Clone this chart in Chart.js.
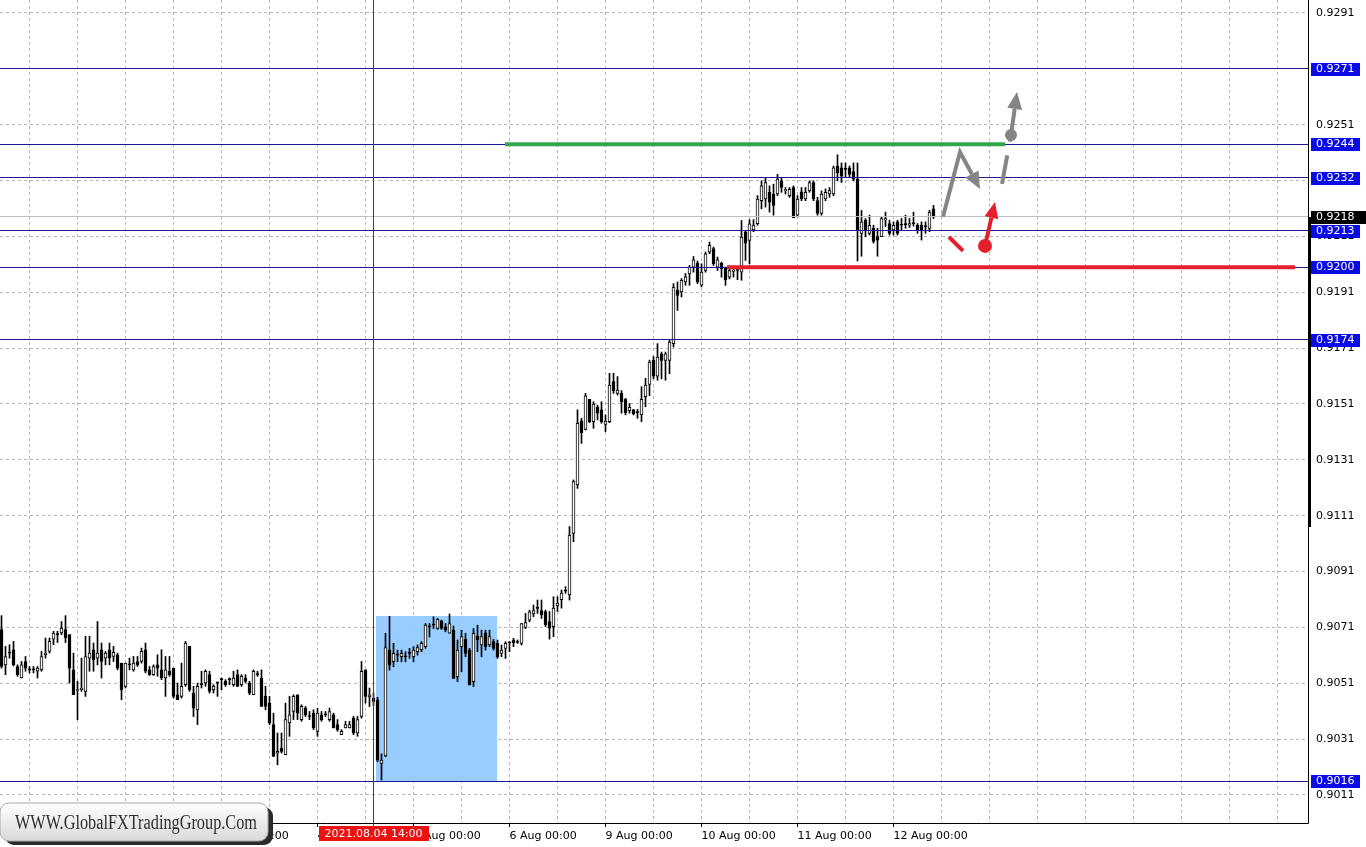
<!DOCTYPE html>
<html>
<head>
<meta charset="utf-8">
<title>USDCHF H1</title>
<script src="https://cdn.jsdelivr.net/npm/chart.js@4.4.1/dist/chart.umd.min.js"></script>
<style>
  html, body { margin: 0; padding: 0; background: #fff; }
  #wrap { width: 1366px; height: 847px; }
</style>
</head>
<body>
<div id="wrap"><canvas id="chart" width="1366" height="847"></canvas></div>
<script>
// H1 candles, bar 0 = 29 Jul 17:00, bar 79 = 4 Aug 00:00
const opens = [
  0.90702,0.90576,0.90618,0.9063,0.9057,0.90529,0.90588,0.90558,0.90558,0.90553,
  0.90558,0.90612,0.90624,0.90668,0.90684,0.9069,0.90702,0.90684,0.90558,0.90484,
  0.90487,0.90481,0.906,0.9063,0.906,0.9063,0.906,0.9063,0.90606,0.90612,
  0.90582,0.90499,0.90576,0.90558,0.90588,0.90588,0.9063,0.90558,0.90541,0.90576,
  0.90558,0.90529,0.90553,0.90564,0.90469,0.90463,0.90505,0.90642,0.90475,0.90415,
  0.90505,0.90511,0.90541,0.90487,0.90511,0.90523,0.90517,0.90523,0.90505,0.90541,
  0.90505,0.90529,0.90511,0.90469,0.90541,0.90529,0.90463,0.90439,0.90362,0.9026,
  0.90278,0.90254,0.90368,0.90409,0.90469,0.9038,0.90421,0.90391,0.90403,0.90338,
  0.90397,0.90397,0.9038,0.90397,0.90362,0.90326,0.9035,0.9035,0.90385,0.90332,
  0.90391,0.90558,0.90461,0.90457,0.9045,0.90223,0.9025,0.90629,0.90587,0.90611,
  0.90605,0.90605,0.90617,0.90605,0.90623,0.90629,0.90641,0.90712,0.90718,0.90706,
  0.90734,0.90712,0.90689,0.907,0.90533,0.90641,0.90667,0.90629,0.90516,0.90679,
  0.90647,0.90691,0.90647,0.90659,0.90653,0.90617,0.90635,0.90655,0.90665,0.90656,
  0.90653,0.9071,0.90736,0.90758,0.90778,0.9077,0.90767,0.90731,0.90713,0.90787,
  0.90809,0.9084,0.90826,0.91047,0.9122,0.9145,0.91419,0.91527,0.91447,0.91498,
  0.91489,0.91437,0.91447,0.9159,0.91548,0.91548,0.91527,0.91486,0.91489,0.91479,
  0.91471,0.91536,0.9158,0.91666,0.9161,0.9169,0.91666,0.91666,0.91726,0.91917,
  0.91911,0.91947,0.91976,0.92,0.92014,0.91935,0.91988,0.92054,0.92066,0.92,
  0.92014,0.92,0.91964,0.91985,0.91988,0.91982,0.92126,0.92096,0.92133,0.92156,
  0.92238,0.92244,0.92268,0.92262,0.92262,0.92309,0.92274,0.92256,0.92285,0.92186,
  0.9227,0.92244,0.92273,0.92303,0.92238,0.92192,0.92244,0.92262,0.92262,0.92362,
  0.92356,0.9235,0.92356,0.92342,0.92315,0.92121,0.92168,0.92121,0.92139,0.92109,
  0.92109,0.92168,0.92156,0.92133,0.92162,0.9215,0.92152,0.9215,0.92156,0.9215,
  0.9215,0.92145,0.92139,0.92209
];
const highs = [
  0.90752,0.90642,0.90648,0.9066,0.90576,0.90588,0.90606,0.9057,0.9057,0.9057,
  0.90624,0.90672,0.90672,0.90696,0.90696,0.90731,0.90752,0.90684,0.90618,0.90517,
  0.906,0.90678,0.90678,0.90654,0.90731,0.90654,0.90624,0.90654,0.90642,0.90618,
  0.90582,0.90582,0.906,0.90606,0.90606,0.90636,0.90654,0.9057,0.90576,0.90612,
  0.9063,0.90606,0.90606,0.90564,0.90511,0.90582,0.9066,0.90642,0.90499,0.90511,
  0.90553,0.90558,0.90553,0.90505,0.90515,0.90529,0.90523,0.90529,0.90553,0.90558,
  0.90541,0.90541,0.90517,0.90558,0.90553,0.90558,0.90499,0.90463,0.90403,0.90332,
  0.90332,0.90439,0.90463,0.90469,0.90469,0.90433,0.90427,0.90409,0.90415,0.90421,
  0.90409,0.90409,0.90421,0.90403,0.9038,0.90344,0.90374,0.90374,0.90391,0.90391,
  0.90588,0.90558,0.90493,0.90475,0.9046,0.90257,0.90689,0.9075,0.90653,0.90629,
  0.90629,0.90623,0.90635,0.90641,0.90647,0.90659,0.90724,0.90724,0.90748,0.90742,
  0.90736,0.90724,0.90758,0.90715,0.90665,0.907,0.90689,0.90635,0.90706,0.90718,
  0.907,0.907,0.907,0.90667,0.90665,0.90647,0.90659,0.90659,0.90671,0.90665,
  0.90724,0.9076,0.90772,0.9079,0.90808,0.90808,0.90772,0.90767,0.9082,0.9082,
  0.90844,0.90856,0.91071,0.91238,0.91489,0.91459,0.91548,0.91527,0.91518,0.91506,
  0.91518,0.91471,0.9162,0.9162,0.91608,0.91558,0.9153,0.91512,0.91491,0.91491,
  0.91572,0.91602,0.91667,0.9168,0.91726,0.91696,0.91696,0.91738,0.91941,0.91947,
  0.91959,0.91977,0.92006,0.92038,0.92022,0.92012,0.92054,0.9209,0.92072,0.92036,
  0.92018,0.92,0.92,0.92,0.92,0.92167,0.92131,0.9217,0.9217,0.92256,
  0.92309,0.92321,0.92291,0.92297,0.92332,0.9232,0.92285,0.92285,0.92291,0.92256,
  0.92285,0.92285,0.92309,0.92309,0.9225,0.92273,0.9228,0.92285,0.92362,0.92402,
  0.92373,0.92373,0.92362,0.92373,0.92373,0.92203,0.92174,0.92186,0.9215,0.92139,
  0.9218,0.92197,0.92168,0.92162,0.92168,0.92174,0.92186,0.92174,0.92197,0.92156,
  0.92162,0.92162,0.92203,0.92221
];
const lows = [
  0.90564,0.90541,0.906,0.90572,0.90535,0.90529,0.90553,0.90547,0.90547,0.90529,
  0.90553,0.906,0.90618,0.90648,0.90656,0.90684,0.90656,0.90511,0.90469,0.9038,
  0.90481,0.90463,0.90553,0.90553,0.90576,0.90529,0.90576,0.90576,0.90588,0.90558,
  0.90451,0.90493,0.90558,0.90553,0.9057,0.90582,0.90547,0.90538,0.90538,0.90535,
  0.90523,0.90463,0.90535,0.90457,0.90451,0.90457,0.90499,0.90481,0.90391,0.90362,
  0.90493,0.90499,0.90475,0.90475,0.90463,0.90487,0.90499,0.90505,0.90499,0.90499,
  0.90499,0.90511,0.90469,0.90469,0.90535,0.90427,0.90415,0.90362,0.90248,0.90218,
  0.9026,0.90254,0.9032,0.9038,0.9038,0.90374,0.90391,0.9038,0.90344,0.9032,
  0.90374,0.90391,0.90374,0.9035,0.90338,0.90326,0.9035,0.9035,0.90326,0.9032,
  0.90385,0.90439,0.90427,0.9043,0.90229,0.90164,0.90247,0.90557,0.90569,0.90587,
  0.90587,0.90587,0.90599,0.90587,0.90611,0.90623,0.90635,0.90676,0.90706,0.90703,
  0.90703,0.90694,0.90689,0.90527,0.90516,0.90551,0.90605,0.90504,0.90498,0.90623,
  0.90605,0.90629,0.90641,0.90629,0.90599,0.90605,0.90599,0.90623,0.90641,0.90653,
  0.90647,0.90706,0.9073,0.90748,0.9076,0.90742,0.90713,0.90668,0.90677,0.90767,
  0.90779,0.90832,0.90808,0.91017,0.91208,0.91369,0.91417,0.91443,0.91423,0.91453,
  0.91441,0.91411,0.91443,0.91548,0.91542,0.91477,0.91471,0.91477,0.91471,0.91459,
  0.91447,0.915,0.9154,0.916,0.91595,0.916,0.91595,0.91618,0.91714,0.91845,
  0.91893,0.91935,0.91935,0.91982,0.91941,0.91929,0.91982,0.92048,0.92006,0.91988,
  0.91964,0.91935,0.91958,0.91964,0.91955,0.91953,0.92024,0.92012,0.92127,0.9215,
  0.92209,0.92215,0.92197,0.92186,0.92256,0.92268,0.92262,0.9225,0.92177,0.9218,
  0.92238,0.92238,0.92268,0.92238,0.92186,0.92186,0.92238,0.9225,0.92256,0.92309,
  0.92303,0.92321,0.92321,0.92309,0.92022,0.92039,0.92109,0.92115,0.92086,0.92039,
  0.92109,0.92145,0.92115,0.92115,0.92115,0.92133,0.92139,0.92142,0.92147,0.92121,
  0.92097,0.92121,0.92127,0.92174
];
const closes = [
  0.9057,0.90606,0.90618,0.90576,0.90541,0.90576,0.90564,0.90558,0.90558,0.90564,
  0.90606,0.90618,0.9066,0.9069,0.90684,0.90708,0.90672,0.90564,0.90469,0.90487,
  0.90493,0.90606,0.90618,0.90594,0.90618,0.90588,0.90618,0.906,0.90621,0.90564,
  0.90487,0.90582,0.90576,0.90582,0.90576,0.90624,0.90553,0.90541,0.9057,0.90564,
  0.90529,0.90558,0.90541,0.90463,0.90451,0.90499,0.90654,0.90487,0.90421,0.90499,
  0.90505,0.90553,0.90481,0.90499,0.90511,0.90523,0.90505,0.90523,0.90529,0.90499,
  0.90535,0.90517,0.90475,0.90553,0.90541,0.90427,0.90427,0.90368,0.90248,0.90266,
  0.90266,0.9038,0.90397,0.90463,0.90403,0.90427,0.90397,0.90391,0.9035,0.90403,
  0.9038,0.90397,0.90409,0.9035,0.90344,0.90338,0.90362,0.90362,0.90332,0.9038,
  0.90553,0.90463,0.90469,0.90445,0.90235,0.90235,0.90638,0.90575,0.90617,0.90611,
  0.90617,0.90605,0.90617,0.90629,0.90638,0.90653,0.90718,0.90712,0.90718,0.90739,
  0.90706,0.907,0.90724,0.90527,0.90629,0.90677,0.90617,0.90504,0.90689,0.90665,
  0.90677,0.90641,0.90677,0.90635,0.90605,0.90629,0.90653,0.90655,0.90655,0.90656,
  0.90724,0.90727,0.90766,0.9077,0.90778,0.90755,0.90719,0.90707,0.90779,0.90797,
  0.90833,0.9084,0.91041,0.91232,0.91441,0.91407,0.91539,0.91447,0.9151,0.91477,
  0.91447,0.91449,0.91578,0.91558,0.9156,0.91518,0.91479,0.91498,0.91474,0.91479,
  0.91527,0.91578,0.9166,0.9161,0.91678,0.91666,0.9169,0.91732,0.91929,0.91899,
  0.91953,0.91965,0.92,0.92026,0.91947,0.91982,0.92048,0.92078,0.92012,0.92026,
  0.91994,0.91955,0.91988,0.9199,0.91988,0.92108,0.92086,0.92155,0.92151,0.92244,
  0.92291,0.92303,0.92233,0.92221,0.92315,0.92285,0.92277,0.92279,0.92177,0.92244,
  0.92244,0.92268,0.92303,0.92244,0.92192,0.92262,0.92268,0.92274,0.92356,0.92338,
  0.92326,0.9235,0.92332,0.92315,0.92133,0.92162,0.92133,0.9215,0.92092,0.92097,
  0.92174,0.92174,0.92121,0.9215,0.92121,0.9215,0.92152,0.92156,0.92156,0.92133,
  0.92133,0.92145,0.92197,0.9218
];

// axis labels
const dayLabels = ['30 Jul 00:00', '2 Aug 00:00', '3 Aug 00:00', '4 Aug 00:00', '5 Aug 00:00',
  '6 Aug 00:00', '9 Aug 00:00', '10 Aug 00:00', '11 Aug 00:00', '12 Aug 00:00'];
const firstDayBar = 7;
const priceTicks = [0.9011, 0.9031, 0.9051, 0.9071, 0.9091, 0.9111, 0.9131, 0.9151,
  0.9171, 0.9191, 0.9211, 0.9231, 0.9251, 0.9271, 0.9291];

// horizontal levels and marks
const levels = [0.9271, 0.9244, 0.9232, 0.9213, 0.9200, 0.9174, 0.9016];
const lastPrice = 0.9218;
const markerBar = 93;
const markerLabel = '2021.08.04 14:00';
const watermark = 'WWW.GlobalFXTradingGroup.Com';

// drawings, in [bar, price]
const zone = [[93.625, 0.9075], [123.875, 0.9016]];
const resistance = [[125.875, 0.9244], [250.875, 0.9244]];
const support = [[181.375, 0.9200], [323.375, 0.9200]];
const grayPath = [[235.375, 0.9218], [239.625, 0.92412], [244.625, 0.9228]];
const grayDash = [[250.125, 0.92298], [252.375, 0.92473]];
const grayUp = [[252.375, 0.92473], [253.875, 0.92627]];
const redDash = [[236.875, 0.92108], [240.375, 0.92058]];
const redUp = [[245.875, 0.92076], [248.375, 0.92233]];

const TXT_FONT = '"DejaVu Sans", sans-serif';

function px(chart, p) {
    return [chart.scales.x.getPixelForValue(p[0]), chart.scales.y.getPixelForValue(p[1])];
}

// same rounding Chart.js uses for 1px grid lines
function crisp(v) {
    return Math.round(v - 0.5) + 0.5;
}

function arrowLine(ctx, pts, color, width, headLen, headW) {
    const n = pts.length;
    const [x2, y2] = pts[n - 1];
    const [x1, y1] = pts[n - 2];
    const a = Math.atan2(y2 - y1, x2 - x1);
    const bx = x2 - Math.cos(a) * headLen;
    const by = y2 - Math.sin(a) * headLen;
    ctx.save();
    ctx.strokeStyle = color;
    ctx.fillStyle = color;
    ctx.lineWidth = width;
    ctx.lineJoin = 'miter';
    ctx.beginPath();
    ctx.moveTo(pts[0][0], pts[0][1]);
    for (let i = 1; i < n - 1; i++) ctx.lineTo(pts[i][0], pts[i][1]);
    ctx.lineTo(bx, by);
    ctx.stroke();
    ctx.beginPath();
    ctx.moveTo(x2, y2);
    ctx.lineTo(bx + Math.sin(a) * headW / 2, by - Math.cos(a) * headW / 2);
    ctx.lineTo(bx - Math.sin(a) * headW / 2, by + Math.cos(a) * headW / 2);
    ctx.closePath();
    ctx.fill();
    ctx.restore();
}

const drawings = {
    id: 'drawings',
    beforeDatasetsDraw(chart) {
        const ctx = chart.ctx;
        const [zx1, zy1] = px(chart, zone[0]);
        const [zx2, zy2] = px(chart, zone[1]);
        ctx.save();
        ctx.fillStyle = '#99ccff';
        ctx.fillRect(Math.round(zx1), Math.round(zy1), Math.round(zx2 - zx1), Math.round(zy2 - zy1));
        ctx.restore();
    },
    afterDatasetsDraw(chart) {
        const ctx = chart.ctx;
        const area = chart.chartArea;
        const y = chart.scales.y;
        ctx.save();
        // last price line
        ctx.strokeStyle = '#c0c0c0';
        ctx.lineWidth = 1;
        let py = crisp(y.getPixelForValue(lastPrice));
        ctx.beginPath(); ctx.moveTo(area.left, py); ctx.lineTo(area.right, py); ctx.stroke();
        // levels
        ctx.strokeStyle = '#1a1a96';
        levels.forEach(v => {
            const ly = crisp(y.getPixelForValue(v));
            ctx.beginPath(); ctx.moveTo(area.left, ly); ctx.lineTo(area.right, ly); ctx.stroke();
        });
        // time marker
        const mx = Math.floor(chart.scales.x.getPixelForValue(markerBar)) + 0.5;
        ctx.strokeStyle = '#dd0000';
        ctx.beginPath(); ctx.moveTo(mx, area.top); ctx.lineTo(mx, area.bottom + 3); ctx.stroke();
        // thick horizontal lines
        ctx.lineWidth = 4;
        ctx.lineCap = 'butt';
        [[resistance, '#2ea84a'], [support, '#e4202c']].forEach(([seg, col]) => {
            const a = px(chart, seg[0]), b = px(chart, seg[1]);
            ctx.strokeStyle = col;
            ctx.beginPath(); ctx.moveTo(a[0], a[1]); ctx.lineTo(b[0], b[1]); ctx.stroke();
        });
        ctx.restore();

        // forecast arrows
        const gray = '#858585', red = '#e4202c';
        arrowLine(ctx, grayPath.map(p => px(chart, p)), gray, 4, 17, 15);
        ctx.save();
        ctx.strokeStyle = gray;
        ctx.lineWidth = 4;
        ctx.setLineDash([29, 14]);
        const g1 = px(chart, grayDash[0]), g2 = px(chart, grayDash[1]);
        ctx.beginPath(); ctx.moveTo(g1[0], g1[1]); ctx.lineTo(g2[0], g2[1]); ctx.stroke();
        ctx.restore();
        arrowLine(ctx, grayUp.map(p => px(chart, p)), gray, 4, 17, 15);
        ctx.save();
        ctx.fillStyle = gray;
        ctx.beginPath(); ctx.arc(g2[0], g2[1], 6, 0, Math.PI * 2); ctx.fill();
        ctx.strokeStyle = red;
        ctx.lineWidth = 4;
        const r1 = px(chart, redDash[0]), r2 = px(chart, redDash[1]);
        ctx.beginPath(); ctx.moveTo(r1[0], r1[1]); ctx.lineTo(r2[0], r2[1]); ctx.stroke();
        ctx.restore();
        arrowLine(ctx, redUp.map(p => px(chart, p)), red, 4, 16, 14);
        const rc = px(chart, redUp[0]);
        ctx.save();
        ctx.fillStyle = red;
        ctx.beginPath(); ctx.arc(rc[0], rc[1], 7, 0, Math.PI * 2); ctx.fill();
        ctx.restore();
    },
    afterDraw(chart) {
        const ctx = chart.ctx;
        const area = chart.chartArea;
        const y = chart.scales.y;
        ctx.save();
        // frame
        ctx.strokeStyle = '#000';
        ctx.lineWidth = 1;
        ctx.beginPath();
        ctx.moveTo(area.right + 0.5, 0); ctx.lineTo(area.right + 0.5, area.bottom + 0.5);
        ctx.lineTo(area.left, area.bottom + 0.5);
        ctx.stroke();
        // price bar on the scale
        ctx.fillStyle = '#000';
        const t1 = Math.round(y.getPixelForValue(lastPrice)), t2 = Math.round(y.getPixelForValue(0.9107));
        ctx.fillRect(area.right, t1, 3, t2 - t1);

        // level labels
        ctx.font = '11px ' + TXT_FONT;
        ctx.textBaseline = 'middle';
        ctx.textAlign = 'left';
        levels.forEach(v => {
            const ly = Math.round(y.getPixelForValue(v));
            ctx.fillStyle = '#0a0ae6';
            ctx.fillRect(area.right + 3, ly - 6, 49, 13);
            ctx.fillStyle = '#fff';
            ctx.fillText(v.toFixed(4), area.right + 8, ly + 0.5);
        });
        const cy = Math.round(y.getPixelForValue(lastPrice));
        ctx.fillStyle = '#000';
        ctx.fillRect(area.right + 3, cy - 6, 55, 13);
        ctx.fillStyle = '#fff';
        ctx.fillText(lastPrice.toFixed(4), area.right + 8, cy + 0.5);

        // time marker label
        const mx = Math.floor(chart.scales.x.getPixelForValue(markerBar)) + 0.5;
        ctx.fillStyle = '#ee1111';
        ctx.fillRect(Math.round(mx - 55), area.bottom + 3, 110, 15);
        ctx.fillStyle = '#fff';
        ctx.textAlign = 'center';
        ctx.fillText(markerLabel, mx, area.bottom + 11);

        // watermark badge
        const bx = 0, by = 803, bw = 268, bh = 38;
        ctx.fillStyle = '#2b2b2b';
        ctx.beginPath(); ctx.roundRect(bx + 5, by + 4, bw, bh, 9); ctx.fill();
        const grad = ctx.createLinearGradient(0, by, 0, by + bh);
        grad.addColorStop(0, '#ffffff');
        grad.addColorStop(1, '#d9d9d9');
        ctx.fillStyle = grad;
        ctx.beginPath(); ctx.roundRect(bx, by, bw, bh, 9); ctx.fill();
        ctx.strokeStyle = '#a8a8a8';
        ctx.stroke();
        ctx.font = '20px "Liberation Serif", serif';
        ctx.textAlign = 'left';
        ctx.textBaseline = 'alphabetic';
        const w = ctx.measureText(watermark).width;
        ctx.translate(15, 829);
        ctx.scale(242 / w, 1);
        ctx.fillStyle = '#2e2e2e';
        ctx.fillText(watermark, 0, 0);
        ctx.restore();
    }
};

const bodyColors = closes.map((c, i) => (c > opens[i] ? '#ffffff' : '#000000'));

new Chart(document.getElementById('chart'), {
    type: 'bar',
    data: {
        datasets: [
            {
                label: 'body',
                data: opens.map((o, i) => ({ x: i, y: [o, closes[i]] })),
                backgroundColor: bodyColors,
                borderColor: '#000',
                borderWidth: 1,
                borderSkipped: false,
                barThickness: 3,
                minBarLength: 1,
                grouped: false,
                order: 0
            },
            {
                label: 'wick',
                data: lows.map((l, i) => ({ x: i, y: [l, highs[i]] })),
                backgroundColor: '#000',
                borderWidth: 0,
                barThickness: 1,
                minBarLength: 1,
                grouped: false,
                order: 1
            }
        ]
    },
    options: {
        responsive: false,
        animation: false,
        devicePixelRatio: 1,
        layout: { padding: 0 },
        plugins: {
            legend: { display: false },
            tooltip: { enabled: false }
        },
        scales: {
            x: {
                type: 'linear',
                min: -0.375,
                max: 326.625,
                offset: false,
                afterBuildTicks(scale) {
                    const t = [];
                    for (let k = firstDayBar; k <= 319; k += 12) t.push({ value: k });
                    scale.ticks = t;
                },
                afterFit(scale) {
                    scale.height = 24;
                    scale.paddingLeft = 0;
                    scale.paddingRight = 0;
                },
                grid: {
                    offset: false,
                    color: '#b4b4b4',
                    drawTicks: true,
                    tickLength: 4,
                    tickColor: (ctx) => (ctx.tick && ctx.tick.label ? '#000' : 'rgba(0,0,0,0)')
                },
                border: { display: false, dash: [3, 3] },
                ticks: {
                    autoSkip: false,
                    maxRotation: 0,
                    minRotation: 0,
                    align: 'start',
                    padding: 3,
                    color: '#000',
                    font: { family: TXT_FONT, size: 11 },
                    callback: function(value) {
                        const d = (value - firstDayBar) / 24;
                        return Number.isInteger(d) && d < dayLabels.length ? dayLabels[d] : '';
                    }
                }
            },
            y: {
                type: 'linear',
                position: 'right',
                min: 0.900097,
                max: 0.929565,
                afterBuildTicks(scale) {
                    scale.ticks = priceTicks.map(v => ({ value: v }));
                },
                afterFit(scale) {
                    scale.width = 58;
                    scale.paddingTop = 0;
                    scale.paddingBottom = 0;
                },
                grid: { color: '#b4b4b4', drawTicks: false },
                border: { display: false, dash: [3, 3] },
                ticks: {
                    padding: 8,
                    color: '#000',
                    font: { family: TXT_FONT, size: 11 },
                    callback: (v) => Number(v).toFixed(4)
                }
            }
        }
    },
    plugins: [drawings]
});
</script>
</body>
</html>
